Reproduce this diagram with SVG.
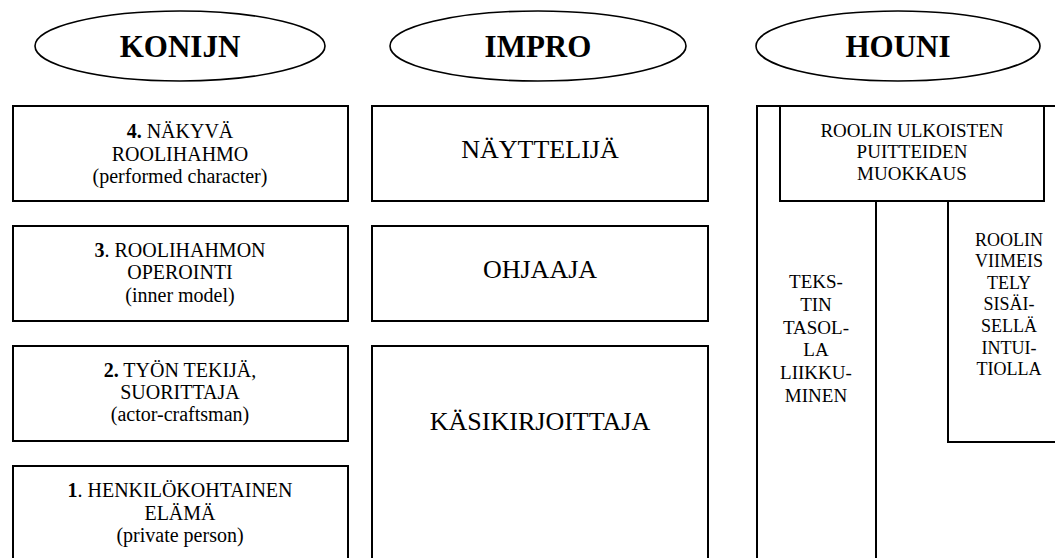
<svg xmlns="http://www.w3.org/2000/svg" width="1055" height="558" viewBox="0 0 1055 558">
<style>
  .box { fill: #fff; stroke: #000; stroke-width: 2; }
  .ln { fill: none; stroke: #000; stroke-width: 2; }
  .ell { fill: #fff; stroke: #000; stroke-width: 1.6; }
  text { font-family: "Times New Roman", Times, Tinos, "Liberation Serif", "DejaVu Serif", "Noto Serif", serif; text-anchor: middle; fill: #000; }
  .h { font-size: 31px; font-weight: bold; }
  .k { font-size: 20px; }
  .i { font-size: 26px; }
  .u { font-size: 19px; }
  .s { font-size: 18px; }
  .b { font-weight: bold; }
</style>
<rect width="1055" height="558" fill="#fff"/>
<g id="konijn-title">
  <ellipse class="ell" cx="180" cy="46" rx="145" ry="35"/>
  <text class="h" x="180" y="57">KONIJN</text>
</g>
<g id="impro-title">
  <ellipse class="ell" cx="538" cy="46" rx="148" ry="35"/>
  <text class="h" x="538" y="57">IMPRO</text>
</g>
<g id="houni-title">
  <ellipse class="ell" cx="898" cy="46" rx="142" ry="35"/>
  <text class="h" x="898" y="57">HOUNI</text>
</g>

<g id="konijn-4">
  <rect class="box" x="13" y="106" width="335" height="95"/>
  <text class="k" x="180" y="138"><tspan class="b">4.</tspan> NÄKYVÄ</text>
  <text class="k" x="180" y="161">ROOLIHAHMO</text>
  <text class="k" x="180" y="183">(performed character)</text>
</g>
<g id="konijn-3">
  <rect class="box" x="13" y="226" width="335" height="95"/>
  <text class="k" x="180" y="257"><tspan class="b">3</tspan>. ROOLIHAHMON</text>
  <text class="k" x="180" y="279">OPEROINTI</text>
  <text class="k" x="180" y="302">(inner model)</text>
</g>
<g id="konijn-2">
  <rect class="box" x="13" y="346" width="335" height="95"/>
  <text class="k" x="180" y="377"><tspan class="b">2.</tspan> TYÖN TEKIJÄ,</text>
  <text class="k" x="180" y="399">SUORITTAJA</text>
  <text class="k" x="180" y="421">(actor-craftsman)</text>
</g>
<g id="konijn-1">
  <rect class="box" x="13" y="466" width="335" height="100"/>
  <text class="k" x="180" y="497"><tspan class="b">1</tspan>. HENKILÖKOHTAINEN</text>
  <text class="k" x="180" y="520">ELÄMÄ</text>
  <text class="k" x="180" y="542">(private person)</text>
</g>

<g id="impro-nayttelija">
  <rect class="box" x="372" y="106" width="336" height="95"/>
  <text class="i" x="540" y="158">NÄYTTELIJÄ</text>
</g>
<g id="impro-ohjaaja">
  <rect class="box" x="372" y="226" width="336" height="95"/>
  <text class="i" x="540" y="278">OHJAAJA</text>
</g>
<g id="impro-kasikirjoittaja">
  <rect class="box" x="372" y="346" width="336" height="220"/>
  <text class="i" x="540" y="430">KÄSIKIRJOITTAJA</text>
</g>

<g id="houni-frame">
  <rect class="box" x="757" y="106" width="320" height="460"/>
</g>
<g id="houni-teksti">
  <path class="ln" d="M876 201 V566"/>
  <text class="u" x="816" y="288">TEKS-</text>
  <text class="u" x="816" y="311">TIN</text>
  <text class="u" x="816" y="334">TASOL-</text>
  <text class="u" x="816" y="356">LA</text>
  <text class="u" x="816" y="379">LIIKKU-</text>
  <text class="u" x="816" y="402">MINEN</text>
</g>
<g id="houni-viimeistely">
  <path class="ln" d="M948 201 V442 H1070"/>
  <text class="s" x="1009" y="246">ROOLIN</text>
  <text class="s" x="1009" y="267">VIIMEIS</text>
  <text class="s" x="1009" y="289">TELY</text>
  <text class="s" x="1009" y="310">SISÄI-</text>
  <text class="s" x="1009" y="332">SELLÄ</text>
  <text class="s" x="1009" y="354">INTUI-</text>
  <text class="s" x="1009" y="375">TIOLLA</text>
</g>
<g id="houni-ulkoiset">
  <rect class="box" x="780" y="106" width="264" height="95"/>
  <text class="u" x="912" y="137">ROOLIN ULKOISTEN</text>
  <text class="u" x="912" y="158">PUITTEIDEN</text>
  <text class="u" x="912" y="180">MUOKKAUS</text>
</g>
<g id="connectors"></g>
</svg>
